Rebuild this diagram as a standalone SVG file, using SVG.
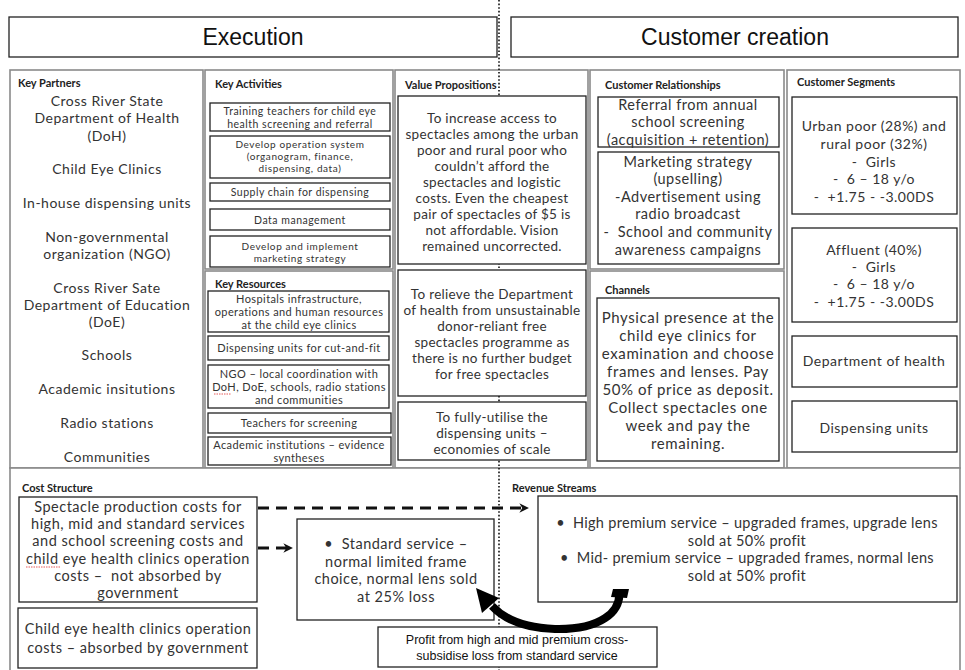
<svg xmlns="http://www.w3.org/2000/svg" width="965" height="670" viewBox="0 0 965 670">
<defs>
<style>
.cell{fill:#fff;stroke:#8a8a8a;stroke-width:1.6}
.box{fill:#fff;stroke:#222;stroke-width:1.3}
.hd{font-family:Lato,"Open Sans",sans-serif;font-weight:bold;font-size:11px;fill:#222}
.t{font-family:Lato,"Open Sans",sans-serif;fill:#333;text-anchor:middle}
.kp{font-size:14px;letter-spacing:0.5px}
.ka{font-size:10.5px;letter-spacing:0.5px}
.ka2{font-size:10px;letter-spacing:0.6px}
.kr{font-size:11px;letter-spacing:0.4px}
.vp{font-size:13.5px;letter-spacing:0.3px}
.cr{font-size:14.5px;letter-spacing:0.5px}
.ch{font-size:15px;letter-spacing:0.6px}
.cs{font-size:14px;letter-spacing:0.5px}
.cost{font-size:14.5px;letter-spacing:0.5px}
.rev{font-size:14.5px;letter-spacing:0.3px}
.ar{font-family:"Liberation Sans",Arial,sans-serif;fill:#111;text-anchor:middle;font-size:12.5px}
.dash{fill:none;stroke:#111;stroke-width:3;stroke-dasharray:11 7}
.squig{fill:none;stroke:#e03030;stroke-width:0.8;stroke-dasharray:1.5 1}
</style>
<marker id="ah" viewBox="0 0 10 10" refX="9" refY="5" markerWidth="3.2" markerHeight="3.2" orient="auto" markerUnits="strokeWidth">
<path d="M0,0 L10,5 L0,10 L3,5 Z" fill="#111"/>
</marker>
</defs>
<rect width="965" height="670" fill="#fff"/>

<g id="execution">
<rect x="9" y="17" width="488" height="40" fill="#fff" stroke="#222" stroke-width="1.3"/>
<text x="253" y="45" font-family="'Liberation Sans',Arial,sans-serif" font-size="23" fill="#111" text-anchor="middle">Execution</text>
</g>
<g id="customer-creation">
<rect x="511" y="17" width="447" height="40" fill="#fff" stroke="#222" stroke-width="1.3"/>
<text x="735" y="45" font-family="'Liberation Sans',Arial,sans-serif" font-size="23" fill="#111" text-anchor="middle">Customer creation</text>
</g>

<g id="grid">
<rect class="cell" x="10" y="70" width="193" height="398"/>
<rect class="cell" x="205" y="70" width="188" height="199"/>
<rect class="cell" x="205" y="271" width="188" height="197"/>
<rect class="cell" x="395" y="70" width="193" height="398"/>
<rect class="cell" x="590" y="70" width="194" height="199"/>
<rect class="cell" x="590" y="271" width="194" height="197"/>
<rect class="cell" x="787" y="70" width="173" height="398"/>
<rect class="cell" x="10" y="468" width="950" height="215"/>
</g>

<line id="divider" x1="499" y1="0" x2="499" y2="670" stroke="#111" stroke-width="1.6" stroke-dasharray="1.6 2"/>

<g id="key-partners">
<text class="hd" x="18" y="87">Key Partners</text>
<text class="t kp" x="107" y="106">Cross River State</text>
<text class="t kp" x="107" y="123">Department of Health</text>
<text class="t kp" x="107" y="141">(DoH)</text>
<text class="t kp" x="107" y="174">Child Eye Clinics</text>
<text class="t kp" x="107" y="208">In-house dispensing units</text>
<text class="t kp" x="107" y="242">Non-governmental</text>
<text class="t kp" x="107" y="259">organization (NGO)</text>
<text class="t kp" x="107" y="293">Cross River Sate</text>
<text class="t kp" x="107" y="310">Department of Education</text>
<text class="t kp" x="107" y="327">(DoE)</text>
<text class="t kp" x="107" y="360">Schools</text>
<text class="t kp" x="107" y="394">Academic insitutions</text>
<text class="t kp" x="107" y="428">Radio stations</text>
<text class="t kp" x="107" y="462">Communities</text>
</g>

<g id="key-activities">
<text class="hd" x="215" y="88">Key Activities</text>
<rect class="box" x="210" y="103" width="180" height="28"/>
<text class="t ka" x="300" y="115">Training teachers for child eye</text>
<text class="t ka" x="300" y="128">health screening and referral</text>
<rect class="box" x="210" y="136" width="180" height="42"/>
<text class="t ka2" x="300" y="148">Develop operation system</text>
<text class="t ka2" x="300" y="160">(organogram, finance,</text>
<text class="t ka2" x="300" y="172">dispensing, data)</text>
<rect class="box" x="210" y="183" width="180" height="18"/>
<text class="t ka" x="300" y="196">Supply chain for dispensing</text>
<rect class="box" x="210" y="209" width="180" height="21"/>
<text class="t ka" x="300" y="224">Data management</text>
<rect class="box" x="210" y="236" width="180" height="31"/>
<text class="t ka2" x="300" y="250">Develop and implement</text>
<text class="t ka2" x="300" y="262">marketing strategy</text>
</g>

<g id="key-resources">
<text class="hd" x="215" y="288" font-size="12">Key Resources</text>
<rect class="box" x="208" y="291" width="181" height="41"/>
<text class="t kr" x="299" y="303">Hospitals infrastructure,</text>
<text class="t kr" x="299" y="316">operations and human resources</text>
<text class="t kr" x="299" y="329">at the child eye clinics</text>
<rect class="box" x="208" y="336" width="181" height="24"/>
<text class="t kr" x="299" y="352">Dispensing units for cut-and-fit</text>
<rect class="box" x="208" y="365" width="181" height="43"/>
<text class="t kr" x="299" y="378">NGO – local coordination with</text>
<text class="t kr" x="299" y="391">DoH, DoE, schools, radio stations</text>
<text class="t kr" x="299" y="404">and communities</text>
<path class="squig" d="M214,394 L231,394"/>
<rect class="box" x="208" y="413" width="183" height="20"/>
<text class="t kr" x="299" y="427">Teachers for screening</text>
<rect class="box" x="208" y="437" width="183" height="28"/>
<text class="t kr" x="299" y="449">Academic institutions – evidence</text>
<text class="t kr" x="299" y="462">syntheses</text>
</g>

<g id="value-propositions">
<text class="hd" x="405" y="89">Value Propositions</text>
<rect class="box" x="398" y="96" width="188" height="168"/>
<text class="t vp" x="492" y="123">To increase access to</text>
<text class="t vp" x="492" y="139">spectacles among the urban</text>
<text class="t vp" x="492" y="155">poor and rural poor who</text>
<text class="t vp" x="492" y="171">couldn’t afford the</text>
<text class="t vp" x="492" y="187">spectacles and logistic</text>
<text class="t vp" x="492" y="203">costs. Even the cheapest</text>
<text class="t vp" x="492" y="219">pair of spectacles of $5 is</text>
<text class="t vp" x="492" y="235">not affordable. Vision</text>
<text class="t vp" x="492" y="251">remained uncorrected.</text>
<rect class="box" x="398" y="270" width="188" height="126"/>
<text class="t vp" x="492" y="299">To relieve the Department</text>
<text class="t vp" x="492" y="315">of health from unsustainable</text>
<text class="t vp" x="492" y="331">donor-reliant free</text>
<text class="t vp" x="492" y="347">spectacles programme as</text>
<text class="t vp" x="492" y="363">there is no further budget</text>
<text class="t vp" x="492" y="379">for free spectacles</text>
<rect class="box" x="398" y="402" width="188" height="58"/>
<text class="t vp" x="492" y="422">To fully-utilise the</text>
<text class="t vp" x="492" y="438">dispensing units –</text>
<text class="t vp" x="492" y="454">economies of scale</text>
</g>

<g id="customer-relationships">
<text class="hd" x="605" y="89">Customer Relationships</text>
<rect class="box" x="598" y="97" width="181" height="50"/>
<text class="t cr" x="688" y="110">Referral from annual</text>
<text class="t cr" x="688" y="127">school screening</text>
<text class="t cr" x="688" y="145">(acquisition + retention)</text>
<rect class="box" x="598" y="152" width="181" height="112"/>
<text class="t cr" x="688" y="167">Marketing strategy</text>
<text class="t cr" x="688" y="184">(upselling)</text>
<text class="t cr" x="688" y="202">-Advertisement using</text>
<text class="t cr" x="688" y="219">radio broadcast</text>
<text class="t cr" x="688" y="237" xml:space="preserve">-  School and community</text>
<text class="t cr" x="688" y="255">awareness campaigns</text>
</g>

<g id="channels">
<text class="hd" x="605" y="294">Channels</text>
<rect class="box" x="597" y="298" width="182" height="163"/>
<text class="t ch" x="688" y="323">Physical presence at the</text>
<text class="t ch" x="688" y="341">child eye clinics for</text>
<text class="t ch" x="688" y="359">examination and choose</text>
<text class="t ch" x="688" y="377">frames and lenses. Pay</text>
<text class="t ch" x="688" y="395">50% of price as deposit.</text>
<text class="t ch" x="688" y="413">Collect spectacles one</text>
<text class="t ch" x="688" y="431">week and pay the</text>
<text class="t ch" x="688" y="449">remaining.</text>
</g>

<g id="customer-segments">
<text class="hd" x="797" y="86">Customer Segments</text>
<rect class="box" x="792" y="97" width="165" height="117"/>
<text class="t cs" x="874" y="131">Urban poor (28%) and</text>
<text class="t cs" x="874" y="149">rural poor (32%)</text>
<text class="t cs" x="874" y="167" xml:space="preserve">-  Girls</text>
<text class="t cs" x="874" y="184" xml:space="preserve">-  6 – 18 y/o</text>
<text class="t cs" x="874" y="202" xml:space="preserve">-  +1.75 - -3.00DS</text>
<rect class="box" x="792" y="228" width="165" height="94"/>
<text class="t cs" x="874" y="255">Affluent (40%)</text>
<text class="t cs" x="874" y="272" xml:space="preserve">-  Girls</text>
<text class="t cs" x="874" y="289" xml:space="preserve">-  6 – 18 y/o</text>
<text class="t cs" x="874" y="307" xml:space="preserve">-  +1.75 - -3.00DS</text>
<rect class="box" x="792" y="336" width="165" height="51"/>
<text class="t cs" x="874" y="366">Department of health</text>
<rect class="box" x="792" y="401" width="165" height="51"/>
<text class="t cs" x="874" y="433">Dispensing units</text>
</g>

<g id="cost-structure">
<text class="hd" x="22" y="492">Cost Structure</text>
</g>
<g id="cost-production">
<rect class="box" x="19" y="497" width="238" height="105"/>
<text class="t cost" x="138" y="512">Spectacle production costs for</text>
<text class="t cost" x="138" y="529">high, mid and standard services</text>
<text class="t cost" x="138" y="546">and school screening costs and</text>
<text class="t cost" x="138" y="564">child eye health clinics operation</text>
<text class="t cost" x="138" y="581" xml:space="preserve">costs –  not absorbed by</text>
<text class="t cost" x="138" y="598">government</text>
<path class="squig" d="M26,567 L60,567"/>
</g>
<g id="cost-absorbed">
<rect class="box" x="18" y="608" width="239" height="60"/>
<text class="t cost" x="138" y="634">Child eye health clinics operation</text>
<text class="t cost" x="138" y="653">costs – absorbed by government</text>
</g>
<g id="standard-service">
<rect class="box" x="297" y="519" width="197" height="101"/>
<text class="t cost" x="396" y="549" xml:space="preserve">•  Standard service –</text>
<text class="t cost" x="396" y="567">normal limited frame</text>
<text class="t cost" x="396" y="584">choice, normal lens sold</text>
<text class="t cost" x="396" y="602">at 25% loss</text>
</g>

<g id="revenue-streams">
<text class="hd" x="512" y="492">Revenue Streams</text>
</g>
<g id="premium-services">
<rect class="box" x="538" y="496" width="419" height="106"/>
<text class="t rev" x="747" y="528" xml:space="preserve">•  High premium service – upgraded frames, upgrade lens</text>
<text class="t rev" x="747" y="546">sold at 50% profit</text>
<text class="t rev" x="747" y="563" xml:space="preserve">•  Mid- premium service – upgraded frames, normal lens</text>
<text class="t rev" x="747" y="581">sold at 50% profit</text>
</g>
<g id="profit-note">
<rect class="box" x="378" y="627" width="279" height="40"/>
<text class="ar" x="517" y="644">Profit from high and mid premium cross-</text>
<text class="ar" x="517" y="660">subsidise loss from standard service</text>
</g>

<g id="connectors">
<path class="dash" d="M258,508 L528,508" marker-end="url(#ah)"/>
<path class="dash" d="M258,548 L292,548" marker-end="url(#ah)"/>
<path d="M619,590 C622,612 600,630 555,629 C525,628 505,620 492,606" fill="none" stroke="#000" stroke-width="8"/>
<path d="M613,589 L629,589 L627,598 L611,597 Z" fill="#000"/>
<polygon points="476,588 499,598 482,613" fill="#000"/>
</g>
</svg>
